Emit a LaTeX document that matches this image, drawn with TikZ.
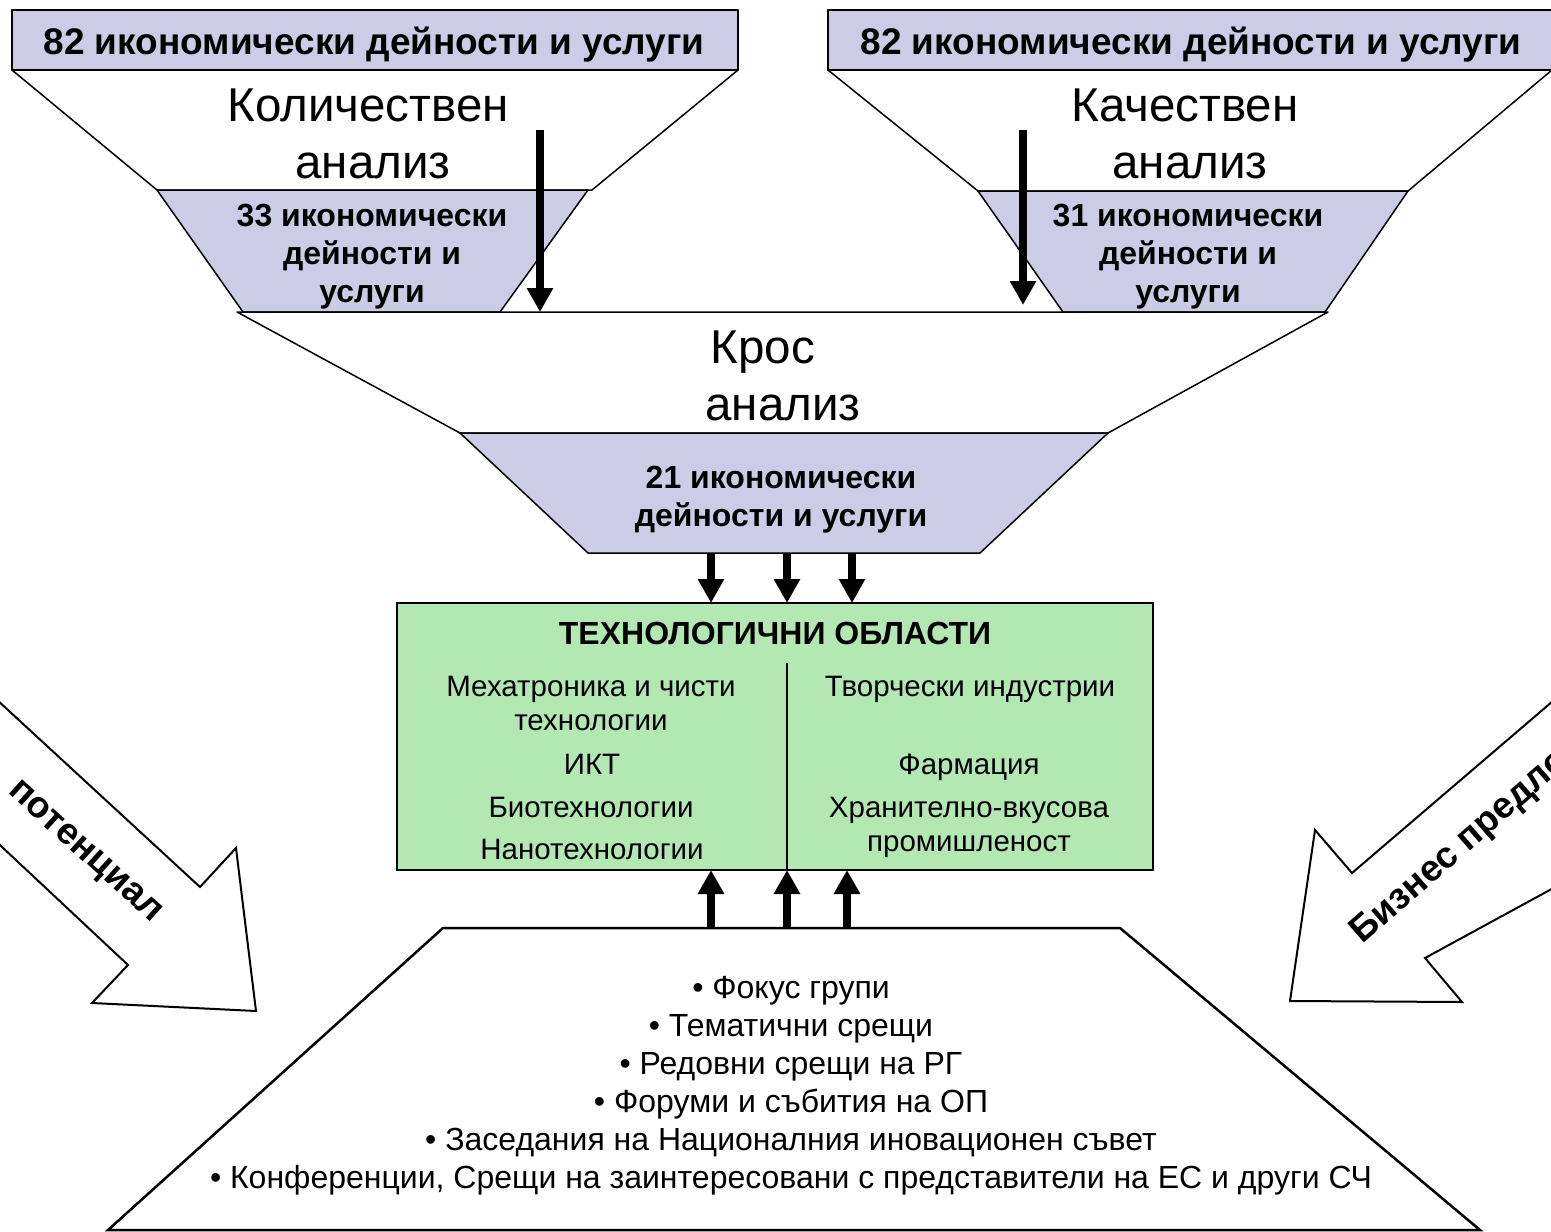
\documentclass[tikz,border=0pt]{standalone}
\usepackage{fontspec}
\setmainfont{Liberation Sans}
\usetikzlibrary{arrows.meta,positioning}

\definecolor{lav}{RGB}{204,204,230}
\definecolor{grn}{RGB}{179,232,179}

\begin{document}
\begin{tikzpicture}[x=1pt,y=-1pt,
    funnel/.style={draw,line width=1.5pt,fill=white,line join=round},
    band/.style={draw,line width=1.5pt,fill=lav,line join=round},
    head/.style={font=\fontsize{37}{44}\selectfont\bfseries,anchor=base,inner sep=0pt},
    big/.style={font=\fontsize{47.5}{57}\selectfont,anchor=base,inner sep=0pt},
    mid/.style={font=\fontsize{32}{38}\selectfont\bfseries,anchor=base,align=center,inner sep=0pt},
    item/.style={font=\fontsize{29.5}{34}\selectfont,anchor=base,inner sep=0pt},
    rot/.style={font=\fontsize{37}{40}\selectfont\bfseries,inner sep=0pt},
    arr/.style={-{Triangle[length=24pt,width=25pt]},line width=8pt},
    fat/.style={draw,line width=2pt,fill=white,line join=miter}]
  \useasboundingbox (0,0) rectangle (1551,1232);
  \clip (0,0) rectangle (1551,1232);

  % big side arrows
  \draw[fat] (-30,675) -- (200,887) -- (236,848) -- (256,1011) -- (92,1003)
    -- (128,965) -- (-30,817) -- cycle;
  \draw[fat] (1581,677) -- (1352,873) -- (1315,830) -- (1290,1001) -- (1462,1002)
    -- (1425,958) -- (1581,873) -- cycle;
  \node[rot,rotate=-42,anchor=base east] (pot) at (152,923) {потенциал};
  \node[rot,rotate=41,anchor=base west] (biz) at (1362,945) {Бизнес предложения};

  % quantitative funnel
  \draw[funnel] (12,70) -- (738,70) -- (592,190) -- (157,190) -- cycle;
  \draw[band] (157,190) -- (588,190) -- (500,312) -- (243,312) -- cycle;
  \draw[band,line width=2.5pt] (12,10) rectangle (738,70);
  \node[head] (in_l) at (374,54) {82 икономически дейности и услуги};
  \node[big] (kol) at (368,121) {Количествен};
  \node[big] (kol_a) at (373,178) {анализ};
  \node[mid] (out_l) at (372,302) {33 икономически\\дейности и\\услуги};

  % qualitative funnel
  \draw[funnel] (828,70) -- (1552,70) -- (1408,191) -- (978,191) -- cycle;
  \draw[band] (978,191) -- (1408,191) -- (1325,312) -- (1063,312) -- cycle;
  \draw[band,line width=2.5pt] (828,10) rectangle (1565,70);
  \node[head] (in_r) at (1191,54) {82 икономически дейности и услуги};
  \node[big] (kach) at (1185,121) {Качествен};
  \node[big] (kach_a) at (1190,178) {анализ};
  \node[mid] (out_r) at (1188,302) {31 икономически\\дейности и\\услуги};

  % cross funnel
  \draw[funnel] (237,312) -- (1328,312) -- (1108,433) -- (460,433) -- cycle;
  \draw[band] (460,433) -- (1108,433) -- (980,553) -- (588,553) -- cycle;
  \node[big] (kros) at (763,363) {Крос};
  \node[big] (kros_a) at (783,420) {анализ};
  \node[mid] (out_c) at (781,526) {21 икономически\\дейности и услуги};

  \coordinate (l_top) at (540,130);
  \coordinate (l_end) at (540,312);
  \coordinate (r_top) at (1023,130);
  \coordinate (r_end) at (1023,305);
  \draw[arr] (l_top) -- (l_end);
  \draw[arr] (r_top) -- (r_end);

  % technology areas
  \draw[line width=2.5pt,fill=grn] (397,603) rectangle (1153,870);
  \draw[line width=2pt] (787,663) -- (787,870);
  \node[head,font=\fontsize{32}{34}\selectfont\bfseries] (tech) at (775,644) {ТЕХНОЛОГИЧНИ ОБЛАСТИ};
  \node[item] (mech) at (591,696) {Мехатроника и чисти};
  \node[item] (mech_b) at (591,730) {технологии};
  \node[item] (ict) at (592,774) {ИКТ};
  \node[item] (bio) at (591,817) {Биотехнологии};
  \node[item] (nano) at (592,859) {Нанотехнологии};
  \node[item] (creat) at (970,696) {Творчески индустрии};
  \node[item] (pharm) at (969,774) {Фармация};
  \node[item] (food) at (969,817) {Хранително-вкусова};
  \node[item] (food_b) at (969,851) {промишленост};

  \coordinate (d1) at (711,553);
  \coordinate (d2) at (787,553);
  \coordinate (d3) at (852,553);
  \coordinate (t1) at (711,603);
  \coordinate (t2) at (787,603);
  \coordinate (t3) at (852,603);
  \draw[arr] (d1) -- (t1);
  \draw[arr] (d2) -- (t2);
  \draw[arr] (d3) -- (t3);

  % stakeholder meetings
  \draw[line width=2.5pt,fill=white,line join=miter] (443,928) -- (1120,928) -- (1480,1230)
    -- (108,1230) -- cycle;
  \node[item,font=\fontsize{32}{38}\selectfont,align=center] (meet) at (791,1188)
    {• Фокус групи\\• Тематични срещи\\• Редовни срещи на РГ\\• Форуми и събития на ОП\\
     • Заседания на Националния иновационен съвет\\
     • Конференции, Срещи на заинтересовани с представители на ЕС и други СЧ};

  \coordinate (u1) at (711,928);
  \coordinate (u2) at (787,928);
  \coordinate (u3) at (847,928);
  \coordinate (b1) at (711,870);
  \coordinate (b2) at (787,870);
  \coordinate (b3) at (847,870);
  \draw[arr] (u1) -- (b1);
  \draw[arr] (u2) -- (b2);
  \draw[arr] (u3) -- (b3);
\end{tikzpicture}
\end{document}
